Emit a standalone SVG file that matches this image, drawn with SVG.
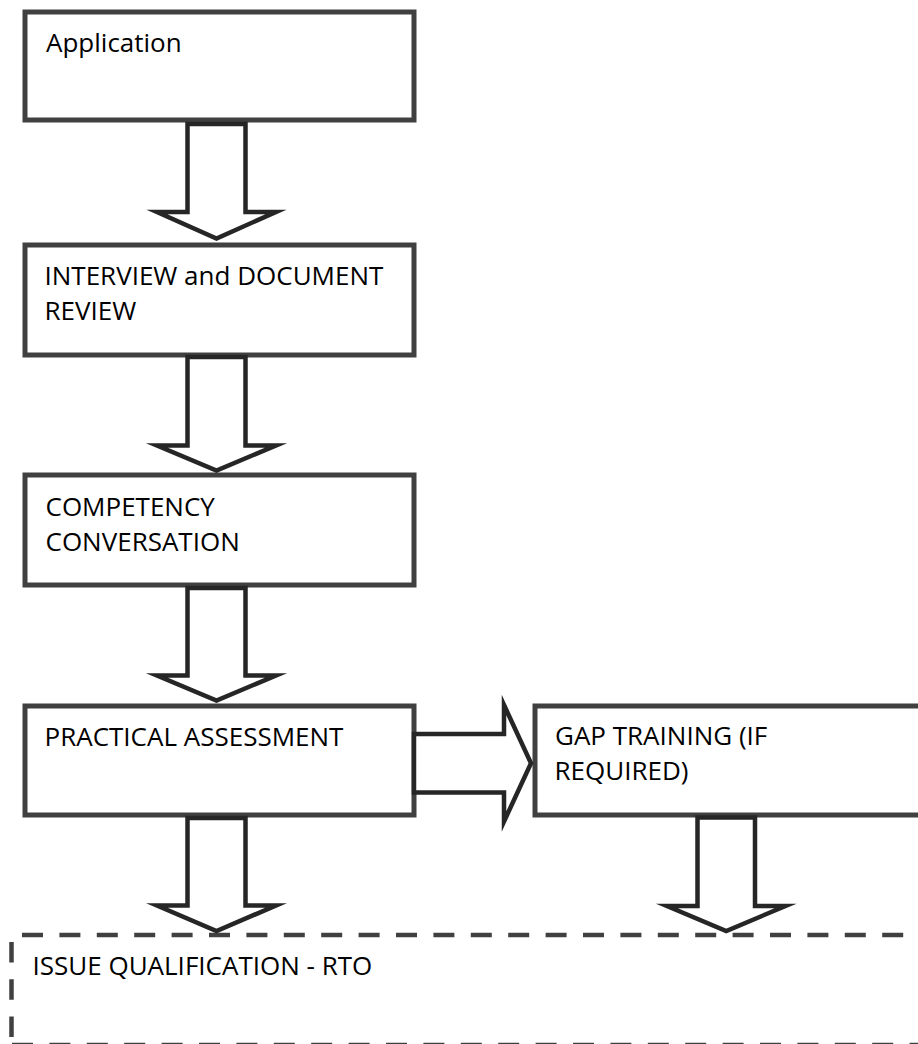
<svg xmlns="http://www.w3.org/2000/svg" width="918" height="1044" viewBox="0 0 918 1044">
<style>
.box{fill:#fff;stroke:#404040;stroke-width:5}
.arrow{fill:#fff;stroke:#262626;stroke-width:4.5;stroke-linejoin:miter;stroke-miterlimit:10}
.dash{fill:none;stroke:#404040;stroke-width:4.5;stroke-dasharray:21 16.4}
.t{font-family:"Open Sans","Liberation Sans",sans-serif;font-size:26px;fill:#000}
</style>
<rect width="918" height="1044" fill="#fff"/>
<g id="n1"><rect class="box" x="25" y="12" width="389" height="108"/><text class="t" x="46" y="52">Application</text></g>
<g id="n2"><rect class="box" x="25" y="245" width="389" height="110"/><text class="t" x="44.5" y="285">INTERVIEW and DOCUMENT</text><text class="t" x="44.5" y="320">REVIEW</text></g>
<g id="n3"><rect class="box" x="25" y="475" width="389" height="110"/><text class="t" x="45.5" y="515.5">COMPETENCY</text><text class="t" x="45.5" y="550.5">CONVERSATION</text></g>
<g id="n4"><rect class="box" x="25" y="706" width="389" height="109"/><text class="t" x="44.5" y="745.5">PRACTICAL ASSESSMENT</text></g>
<g id="n5"><rect class="box" x="535" y="706" width="400" height="109"/><text class="t" x="555" y="745">GAP TRAINING (IF</text><text class="t" x="554.5" y="780">REQUIRED)</text></g>
<g id="n6">
<line class="dash" x1="22" y1="935" x2="930" y2="935"/>
<line class="dash" x1="11.5" y1="942" x2="11.5" y2="1050" style="stroke-dasharray:20.5 16.8"/>
<line class="dash" x1="12" y1="1045" x2="930" y2="1045"/>
<text class="t" x="32.5" y="975">ISSUE QUALIFICATION - RTO</text>
</g>
<g id="connectors">
<polygon class="arrow" points="187.5,124 245.5,124 245.5,212 276,212 216.5,238.5 157,212 187.5,212"/>
<polygon class="arrow" points="187.5,357 245.5,357 245.5,445.5 276,445.5 216.5,470.5 157,445.5 187.5,445.5"/>
<polygon class="arrow" points="187.5,588 245.5,588 245.5,675.5 276,675.5 216.5,700.5 157,675.5 187.5,675.5"/>
<polygon class="arrow" points="187.5,818 245.5,818 245.5,905.5 276,905.5 216.5,931 157,905.5 187.5,905.5"/>
<polygon class="arrow" points="697.5,817.5 755,817.5 755,906 785.5,906 726.25,931 667,906 697.5,906"/>
<polygon class="arrow" points="414,734 504,734 504,705 531,763.25 504,821.5 504,792.5 414,792.5"/>
</g>
</svg>
